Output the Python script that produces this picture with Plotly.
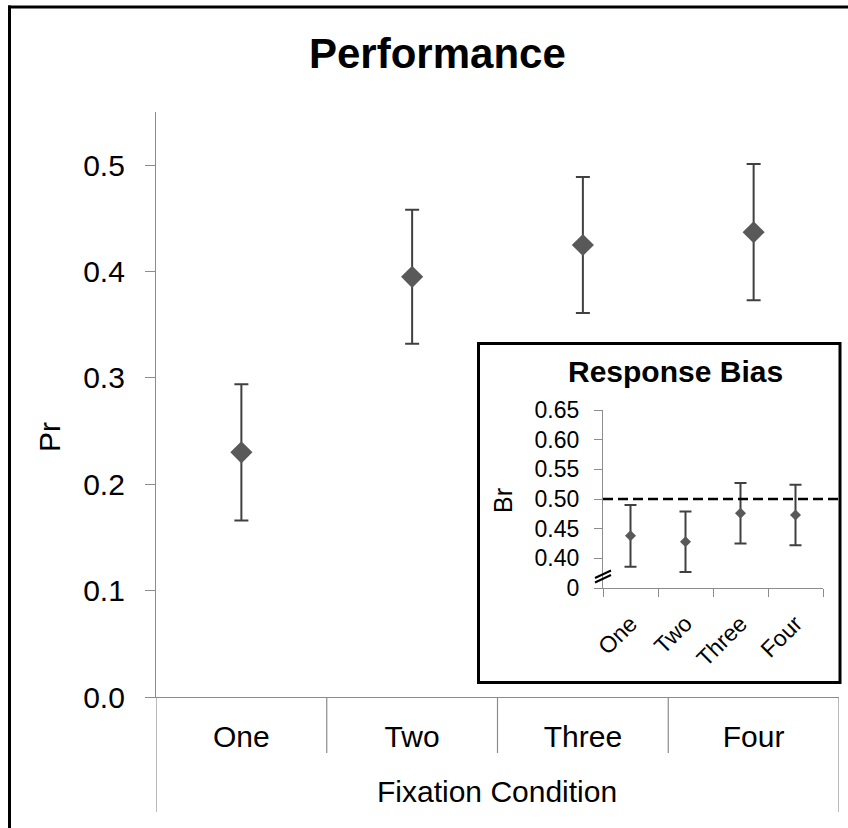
import plotly.graph_objects as go

# ---------------- data ----------------
conditions = ["One", "Two", "Three", "Four"]
pr_values = [0.230, 0.395, 0.425, 0.437]
pr_errors = [0.064, 0.063, 0.064, 0.064]

br_values = [0.438, 0.428, 0.476, 0.473]
br_errors = [0.052, 0.051, 0.051, 0.051]

pr_ticks = [0.0, 0.1, 0.2, 0.3, 0.4, 0.5]
br_tickvals = [0.35, 0.40, 0.45, 0.50, 0.55, 0.60, 0.65]
br_ticktext = ["0", "0.40", "0.45", "0.50", "0.55", "0.60", "0.65"]
br_reference = 0.50

# ---------------- layout helpers ----------------
W, H = 848, 828
FONT = "Liberation Sans, Arial, sans-serif"
AXIS_GRAY = "#8c8c8c"


def px(x):
    return x / W


def py(y):
    return 1 - y / H


fig = go.Figure()

# main chart
fig.add_trace(go.Scatter(
    x=conditions, y=pr_values, mode="markers",
    marker=dict(symbol="diamond", size=17, color="#595959"),
    error_y=dict(type="data", array=pr_errors, color="#404040", thickness=2, width=7),
    xaxis="x", yaxis="y", showlegend=False, cliponaxis=False,
))

# inset chart
fig.add_trace(go.Scatter(
    x=conditions, y=br_values, mode="markers",
    marker=dict(symbol="diamond", size=8.5, color="#595959"),
    error_y=dict(type="data", array=br_errors, color="#404040", thickness=2, width=6),
    xaxis="x2", yaxis="y2", showlegend=False, cliponaxis=False,
))

shapes = []
# outer frame (only top and left edges are visible in the picture)
shapes.append(dict(type="line", xref="paper", yref="paper",
                   x0=px(8), y0=py(7), x1=1, y1=py(7),
                   line=dict(color="black", width=3)))
shapes.append(dict(type="line", xref="paper", yref="paper",
                   x0=px(9.5), y0=py(5.5), x1=px(9.5), y1=0,
                   line=dict(color="black", width=3)))

# category dividers below main x axis
n = len(conditions)
for i in range(n + 1):
    xb = i - 0.5
    bottom = 812 if i in (0, n) else 753
    shapes.append(dict(type="line", xref="x", yref="paper",
                       x0=xb, x1=xb, y0=py(697), y1=py(bottom),
                       line=dict(color=AXIS_GRAY, width=1.2)))

# inset box
shapes.append(dict(type="rect", xref="paper", yref="paper",
                   x0=px(478.5), y0=py(682.5), x1=px(840), y1=py(343.5),
                   line=dict(color="black", width=3), fillcolor="white", layer="below"))

# dashed reference line at 0.50
shapes.append(dict(type="line", xref="paper", yref="y2",
                   x0=px(603), x1=px(838), y0=br_reference, y1=br_reference,
                   line=dict(color="black", width=2.5, dash="10px,5px")))

# axis break marks
for dy in (0, 4.5):
    shapes.append(dict(type="line", xref="paper", yref="paper",
                       x0=px(595), y0=py(578 + dy), x1=px(611), y1=py(570.5 + dy),
                       line=dict(color="black", width=2)))

annotations = [
    dict(text="<b>Performance</b>", x=px(437), y=py(54), xref="paper", yref="paper",
         showarrow=False, font=dict(family=FONT, size=42, color="black"),
         xanchor="center", yanchor="middle"),
    dict(text="Pr", x=px(49), y=py(437), xref="paper", yref="paper", textangle=-90,
         showarrow=False, font=dict(family=FONT, size=30, color="black"),
         xanchor="center", yanchor="middle"),
    dict(text="Fixation Condition", x=px(497), y=py(791), xref="paper", yref="paper",
         showarrow=False, font=dict(family=FONT, size=30, color="black"),
         xanchor="center", yanchor="middle"),
    dict(text="<b>Response Bias</b>", x=px(675), y=py(371), xref="paper", yref="paper",
         showarrow=False, font=dict(family=FONT, size=30, color="black"),
         xanchor="center", yanchor="middle"),
    dict(text="Br", x=px(503), y=py(501), xref="paper", yref="paper", textangle=-90,
         showarrow=False, font=dict(family=FONT, size=25, color="black"),
         xanchor="center", yanchor="middle"),
]

fig.update_layout(
    width=W, height=H,
    margin=dict(l=0, r=0, t=0, b=0, autoexpand=False),
    paper_bgcolor="white", plot_bgcolor="rgba(0,0,0,0)",
    font=dict(family=FONT, color="black"),
    shapes=shapes, annotations=annotations,
    xaxis=dict(
        domain=[px(156), px(839)], type="category", categoryorder="array",
        categoryarray=conditions, range=[-0.5, n - 0.5], automargin=False,
        showline=True, linecolor=AXIS_GRAY, linewidth=1.2, ticks="",
        showgrid=False, zeroline=False, anchor="y",
        tickfont=dict(family=FONT, size=30, color="black"), ticklabelstandoff=13,
    ),
    yaxis=dict(
        domain=[py(697), py(112)], range=[0, 0.55], automargin=False,
        tickvals=pr_ticks, tickformat=".1f",
        showline=True, linecolor=AXIS_GRAY, linewidth=1.2,
        ticks="outside", ticklen=10, tickcolor=AXIS_GRAY, tickwidth=1.2,
        showgrid=False, zeroline=False, anchor="x",
        tickfont=dict(family=FONT, size=30, color="black"), ticklabelstandoff=14,
    ),
    xaxis2=dict(
        domain=[px(603), px(823)], type="category", categoryorder="array",
        categoryarray=conditions, range=[-0.5, n - 0.5], automargin=False,
        showline=True, linecolor=AXIS_GRAY, linewidth=1.2,
        ticks="outside", tickson="boundaries", ticklen=8, tickcolor=AXIS_GRAY, tickwidth=1.2,
        tickangle=-45, showgrid=False, zeroline=False, anchor="y2",
        tickfont=dict(family=FONT, size=23, color="black"), ticklabelstandoff=12,
    ),
    yaxis2=dict(
        domain=[py(588), py(410)], range=[0.35, 0.65], automargin=False,
        tickvals=br_tickvals, ticktext=br_ticktext,
        showline=True, linecolor=AXIS_GRAY, linewidth=1.2,
        ticks="outside", ticklen=8, tickcolor=AXIS_GRAY, tickwidth=1.2,
        showgrid=False, zeroline=False, anchor="x2",
        tickfont=dict(family=FONT, size=23, color="black"), ticklabelstandoff=10,
    ),
)

fig.write_html("out.html", config={"displayModeBar": False},
               post_script="document.body.style.margin='0';")
